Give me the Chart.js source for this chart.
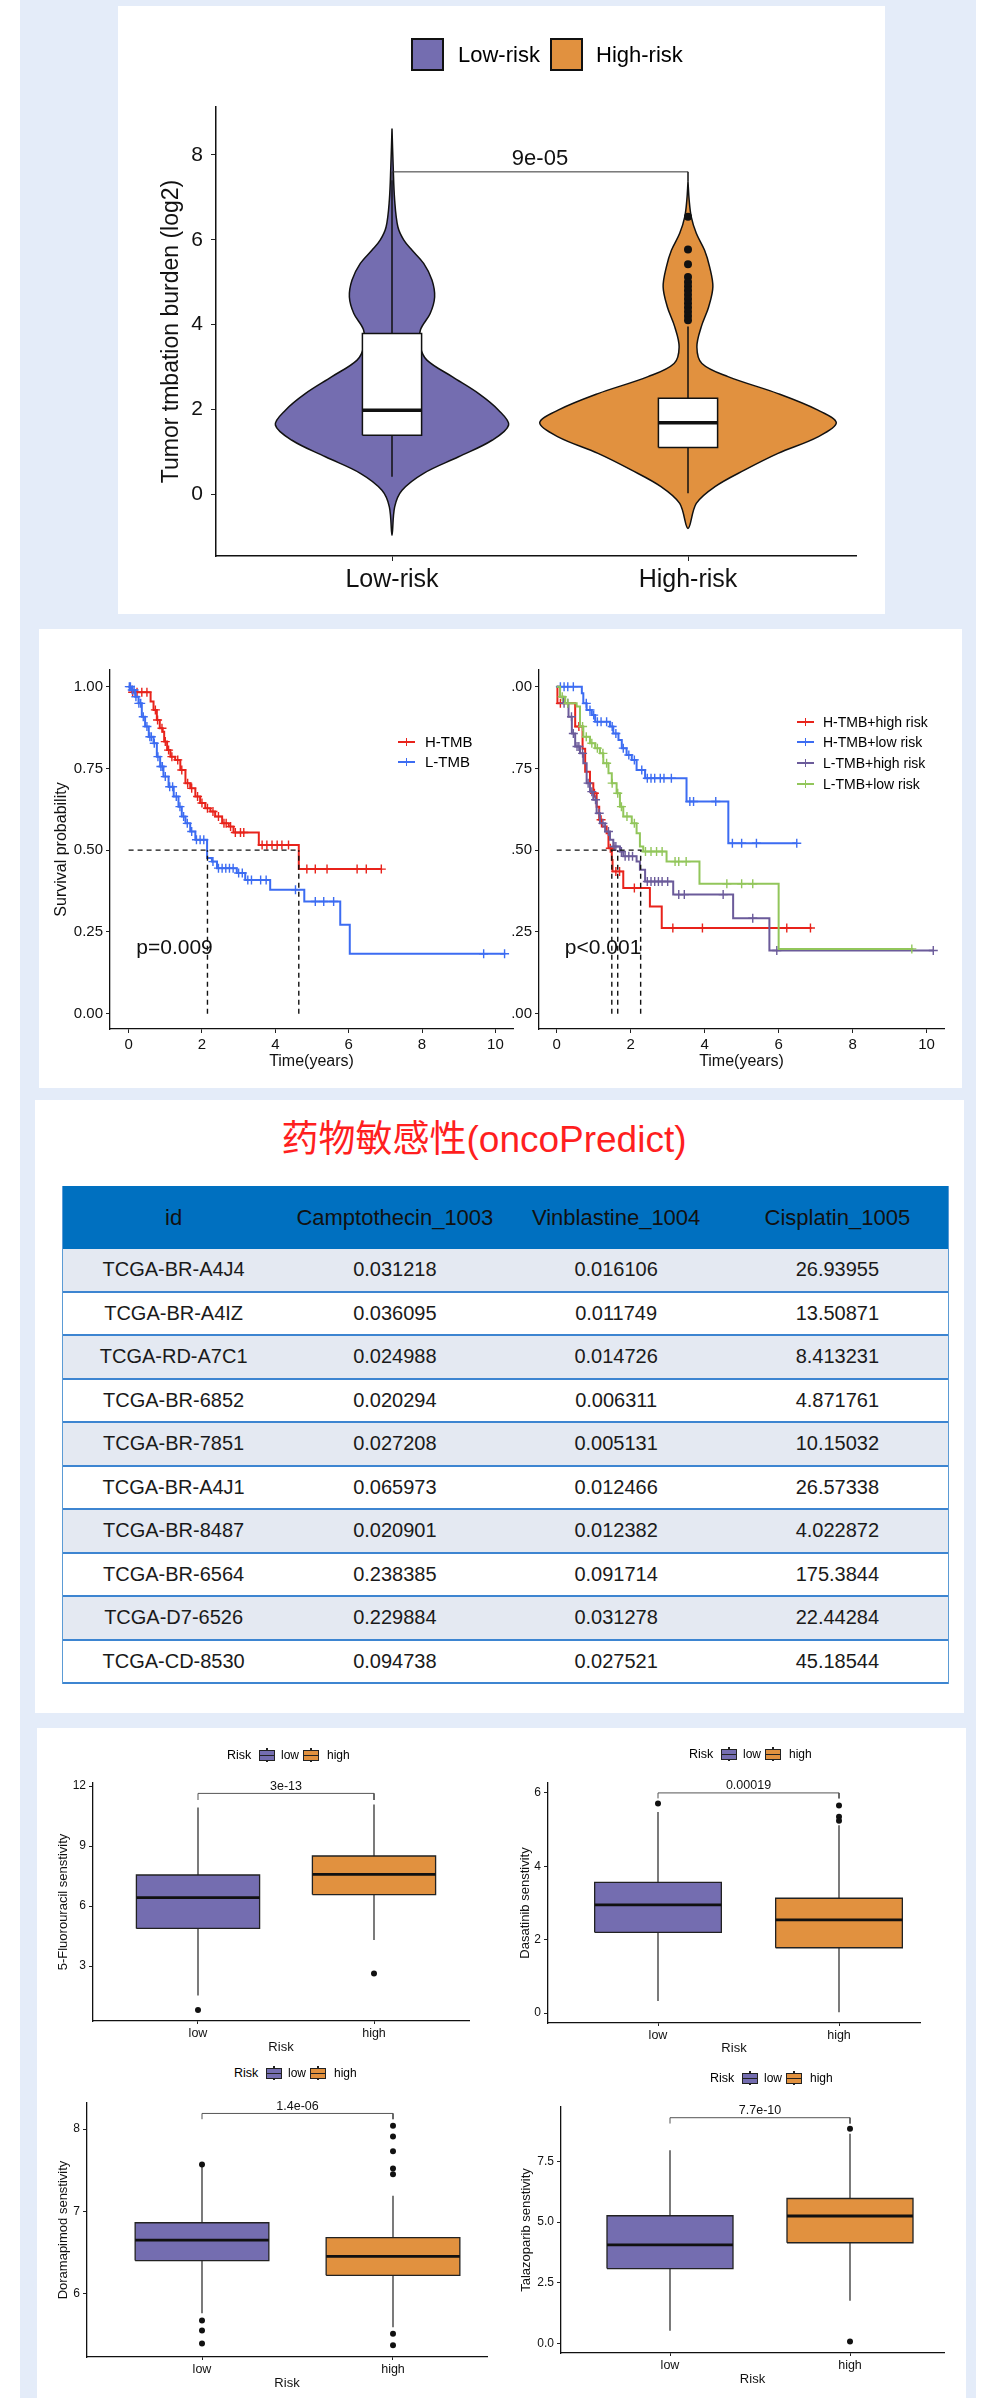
<!DOCTYPE html>
<html lang="zh-CN">
<head>
<meta charset="UTF-8">
<title>TMB, survival and drug sensitivity</title>
<script src="https://cdn.jsdelivr.net/npm/chart.js"></script>
<style>
  body { margin: 0; background: #fff; font-family: 'Liberation Sans', Arial, sans-serif; }
  #page { position: relative; width: 1000px; height: 2398px; overflow: hidden; }
  .frame { position: absolute; left: 20px; top: 0; width: 956px; height: 2398px; background: #e4ecf9; }
  .panel { position: absolute; background: #fff; }
  canvas { position: absolute; }
  #drugTable { position: absolute; left: 62px; top: 1186px; width: 887px; border-collapse: separate; border-spacing: 0;
    table-layout: fixed; border-left: 1.5px solid #5b9bd5; border-right: 1.5px solid #5b9bd5; }
  #drugTable th { height: 63px; padding: 0; background: #0070c0; color: #111; font-weight: normal; font-size: 22px; }
  #drugTable td { height: 41.5px; padding: 0; border-bottom: 2px solid #3d85d1; text-align: center; font-size: 20px; color: #1a1a1a; }
  #drugTable tr:nth-child(even) td { background: #e4e9f2; }
</style>
</head>
<body>
<div id="page">
  <div class="frame"></div>
  <div class="panel" style="left:118px;top:6px;width:767px;height:608px"></div>
  <div class="panel" style="left:39px;top:629px;width:923px;height:459px"></div>
  <div class="panel" style="left:35px;top:1100px;width:929px;height:613px"></div>
  <div class="panel" style="left:37px;top:1728px;width:929px;height:670px"></div>
  <canvas id="violin"></canvas>
  <canvas id="kmLeft"></canvas>
  <canvas id="kmRight"></canvas>
  <table id="drugTable"></table>
  <canvas id="box0"></canvas>
  <canvas id="box1"></canvas>
  <canvas id="box2"></canvas>
  <canvas id="box3"></canvas>
</div>

<script>
// ---------- violin: tumor mutation burden by risk group ----------
const riskGroups = ['Low-risk', 'High-risk'];
const tmbTicks = [0, 2, 4, 6, 8];
const lowViolinY = [8.62, 7.72, 6.93, 6.30, 5.99, 5.75, 5.44, 5.05, 4.65, 4.26, 3.87, 3.47, 3.16, 2.77, 2.37, 1.98, 1.63, 1.27, 0.88, 0.49, 0.09, -0.30, -0.97];
const lowViolinW = [0, .004, .009, .020, .040, .068, .107, .135, .144, .129, .096, .096, .118, .203, .293, .360, .394, .338, .225, .107, .034, .009, 0];
const highViolinY = [7.37, 6.93, 6.54, 6.15, 5.75, 5.36, 4.89, 4.42, 3.95, 3.47, 3.08, 2.77, 2.37, 1.98, 1.68, 1.35, 0.96, 0.57, 0.17, -0.22, -0.81];
const highViolinW = [0, .004, .011, .028, .056, .073, .084, .070, .045, .030, .047, .135, .304, .439, .501, .439, .304, .192, .090, .028, 0];
const tmbQ1 = [1.39, 1.10];
const tmbMedian = [1.98, 1.68];
const tmbQ3 = [3.79, 2.26];
const tmbWhiskerLow = [0.41, 0.02];
const tmbWhiskerHigh = [7.40, 3.95];
const tmbOutliers = [[], [6.54, 5.77, 5.42, 5.12, 5.0, 4.9, 4.8, 4.7, 4.6, 4.5, 4.4, 4.3, 4.2, 4.1]];
const tmbP = '9e-05';

// ---------- Kaplan-Meier curves ----------
const kmTimeTicks = [0, 2, 4, 6, 8, 10];
const kmSurvTicks = [0, 0.25, 0.5, 0.75, 1];
const kmLeftLabels = ['0.00', '0.25', '0.50', '0.75', '1.00'];
const kmRightLabels = ['.00', '.25', '.50', '.75', '.00'];

const hTmbTime = [0, 0.09, 0.6, 0.68, 0.77, 0.85, 0.93, 0.97, 1.05, 1.14, 1.27, 1.41, 1.55, 1.68, 1.82, 1.95, 2.09, 2.23, 2.36, 2.55, 2.73, 2.86, 3.55, 4.64, 6.91];
const hTmbSurv = [1, 0.983, 0.955, 0.929, 0.898, 0.873, 0.862, 0.832, 0.806, 0.786, 0.776, 0.745, 0.705, 0.689, 0.664, 0.644, 0.628, 0.618, 0.603, 0.582, 0.572, 0.554, 0.516, 0.442, 0.442];
const hTmbCensor = [0.11, 0.23, 0.36, 0.5, 0.73, 0.79, 0.91, 1.0, 1.09, 1.18, 1.34, 1.45, 1.61, 1.72, 1.88, 2.0, 2.15, 2.3, 2.45, 2.6, 2.66, 2.78, 2.91, 3.05, 3.14, 3.64, 3.77, 3.91, 4.05, 4.18, 4.36, 4.86, 5.09, 5.41, 6.23, 6.48, 6.89];
const lTmbTime = [0, 0.09, 0.18, 0.27, 0.36, 0.45, 0.55, 0.68, 0.77, 0.86, 0.95, 1.09, 1.23, 1.36, 1.45, 1.55, 1.68, 1.82, 2.14, 2.27, 2.41, 2.95, 3.18, 3.86, 4.79, 5.77, 6.03, 10.27];
const lTmbSurv = [1, 0.99, 0.969, 0.949, 0.908, 0.878, 0.847, 0.827, 0.786, 0.756, 0.725, 0.694, 0.664, 0.633, 0.603, 0.582, 0.557, 0.532, 0.476, 0.465, 0.445, 0.43, 0.409, 0.379, 0.343, 0.272, 0.183, 0.183];
const lTmbCensor = [0.02, 0.05, 0.1, 0.15, 0.2, 0.28, 0.33, 0.4, 0.5, 0.58, 0.62, 0.7, 0.8, 0.88, 0.92, 1.0, 1.12, 1.2, 1.3, 1.4, 1.5, 1.6, 1.72, 1.85, 1.95, 2.05, 2.3, 2.45, 2.55, 2.65, 2.75, 2.85, 3.0, 3.1, 3.25, 3.35, 3.6, 3.75, 4.55, 5.09, 5.32, 5.59, 9.68, 10.25];
const kmMedianLeft = [2.15, 4.64];

const hhTime = [0, 0.02, 0.5, 0.7, 0.77, 0.9, 0.99, 1.08, 1.15, 1.22, 1.35, 1.4, 1.49, 1.51, 1.8, 2.52, 2.84, 6.89];
const hhSurv = [1, 0.949, 0.878, 0.81, 0.74, 0.705, 0.674, 0.633, 0.593, 0.572, 0.552, 0.506, 0.47, 0.435, 0.384, 0.328, 0.262, 0.262];
const hhCensor = [0.1, 0.6, 1.02, 1.2, 1.45, 1.6, 1.7, 2.1, 3.14, 3.94, 6.22, 6.86];
const hlTime = [0, 0.54, 0.68, 0.72, 0.81, 0.95, 1.04, 1.44, 1.53, 1.67, 1.76, 1.89, 2.03, 2.16, 2.39, 3.51, 4.64, 6.49];
const hlSurv = [1, 1, 0.98, 0.949, 0.929, 0.913, 0.893, 0.878, 0.857, 0.837, 0.812, 0.791, 0.776, 0.745, 0.72, 0.649, 0.521, 0.521];
const hlCensor = [0.1, 0.2, 0.3, 0.45, 0.8, 0.9, 1.0, 1.1, 1.2, 1.35, 1.5, 1.6, 1.8, 1.95, 2.1, 2.3, 2.45, 2.55, 2.65, 2.8, 2.9, 3.1, 3.6, 3.7, 4.3, 4.75, 5.0, 5.4, 6.49];
const lhTime = [0, 0.09, 0.18, 0.32, 0.41, 0.5, 0.63, 0.72, 0.81, 0.9, 0.99, 1.08, 1.17, 1.31, 1.44, 1.53, 1.71, 1.8, 2.16, 2.25, 2.39, 3.15, 4.77, 5.75, 10.18];
const lhSurv = [1, 0.969, 0.949, 0.908, 0.857, 0.817, 0.796, 0.766, 0.705, 0.679, 0.654, 0.613, 0.582, 0.557, 0.532, 0.511, 0.496, 0.481, 0.465, 0.44, 0.404, 0.364, 0.292, 0.193, 0.193];
const lhCensor = [0.2, 0.3, 0.4, 0.45, 0.55, 0.6, 0.7, 0.85, 0.95, 1.05, 1.15, 1.25, 1.4, 1.55, 1.6, 1.75, 1.85, 1.95, 2.05, 2.45, 2.55, 2.65, 2.75, 2.85, 3.0, 3.3, 3.45, 4.5, 5.3, 5.95, 10.18];
const llTime = [0, 0.09, 0.23, 0.54, 0.63, 0.72, 0.9, 1.04, 1.17, 1.26, 1.4, 1.49, 1.62, 1.71, 1.8, 2.03, 2.16, 2.25, 2.34, 2.97, 3.86, 6.0, 9.64];
const llSurv = [1, 0.969, 0.949, 0.939, 0.878, 0.847, 0.827, 0.812, 0.796, 0.766, 0.735, 0.705, 0.674, 0.633, 0.603, 0.582, 0.552, 0.511, 0.496, 0.465, 0.397, 0.198, 0.198];
const llCensor = [0.15, 0.3, 0.7, 0.8, 0.95, 1.1, 1.25, 1.35, 1.5, 1.65, 1.75, 1.9, 2.1, 2.4, 2.55, 2.7, 2.85, 3.2, 3.3, 3.5, 4.6, 5.0, 5.3, 9.6];
const kmMedianRight = [1.49, 1.65, 2.27];

// ---------- oncoPredict table ----------
const drugColumns = ['id', 'Camptothecin_1003', 'Vinblastine_1004', 'Cisplatin_1005'];
const sampleIds = ['TCGA-BR-A4J4', 'TCGA-BR-A4IZ', 'TCGA-RD-A7C1', 'TCGA-BR-6852', 'TCGA-BR-7851', 'TCGA-BR-A4J1', 'TCGA-BR-8487', 'TCGA-BR-6564', 'TCGA-D7-6526', 'TCGA-CD-8530'];
const camptothecin = [0.031218, 0.036095, 0.024988, 0.020294, 0.027208, 0.065973, 0.020901, 0.238385, 0.229884, 0.094738];
const vinblastine = [0.016106, 0.011749, 0.014726, 0.006311, 0.005131, 0.012466, 0.012382, 0.091714, 0.031278, 0.027521];
const cisplatin = [26.93955, 13.50871, 8.413231, 4.871761, 10.15032, 26.57338, 4.022872, 175.3844, 22.44284, 45.18544];

// ---------- drug sensitivity boxplots ----------
const boxGroups = ['low', 'high'];
const drugTitles = ['5-Fluorouracil senstivity', 'Dasatinib senstivity', 'Doramapimod senstivity', 'Talazoparib senstivity'];
const drugTicks = [[3, 6, 9, 12], [0, 2, 4, 6], [6, 7, 8], [0, 2.5, 5, 7.5]];
const drugTickLabels = [['3', '6', '9', '12'], ['0', '2', '4', '6'], ['6', '7', '8'], ['0.0', '2.5', '5.0', '7.5']];
const drugQ1 = [[4.88, 6.57], [2.20, 1.78], [6.40, 6.22], [3.09, 4.15]];
const drugMedian = [[6.42, 7.58], [2.95, 2.54], [6.65, 6.45], [4.06, 5.25]];
const drugQ3 = [[7.55, 8.50], [3.56, 3.13], [6.86, 6.68], [5.26, 5.97]];
const drugWhiskerLow = [[1.53, 4.30], [0.33, 0.02], [5.76, 5.59], [0.53, 1.77]];
const drugWhiskerHigh = [[10.93, 11.08], [5.48, 5.12], [7.56, 7.19], [7.95, 8.63]];
const drugOutliers = [
  [[0.8], [2.63]],
  [[5.71], [5.66, 5.35, 5.24]],
  [[7.57, 5.67, 5.55, 5.39], [8.04, 7.91, 7.73, 7.52, 7.45, 5.51, 5.37]],
  [[], [8.84, 0.09]]
];
const drugP = ['3e-13', '0.00019', '1.4e-06', '7.7e-10'];
const drugBracket = [[11.63, 11.30], [6.0, 5.85], [8.19, 8.12], [9.29, 9.05]];

// ---------- styling / layout ----------
const purple = '#746db0';
const orange = '#e1913f';
const kmRed = '#e8231b', kmBlue = '#3c6cf2', kmPurple = '#6b5b9a', kmGreen = '#92c65b';

Chart.defaults.font.family = "'Liberation Sans', Arial, sans-serif";
Chart.defaults.color = '#111';

const page = document.getElementById('page');
function el(tag, css, text) {
  const e = document.createElement(tag);
  e.style.cssText = 'position:absolute;white-space:nowrap;' + css;
  if (text !== undefined) e.textContent = text;
  page.appendChild(e);
  return e;
}
function label(text, x, yc, size, extra) {
  return el('div', `left:${x}px;top:${yc - size * 0.6}px;font-size:${size}px;line-height:${size * 1.2}px;` + (extra || ''), text);
}

// size the canvas so the plot area and axis titles land where they should
function frame(id, L) {
  const cv = document.getElementById(id);
  const yLH = L.yTitleSize ? L.yTitleSize * 1.2 : 0;
  const xLH = L.xTitleSize ? L.xTitleSize * 1.2 : 0;
  const left = Math.round(L.ytx !== undefined ? L.ytx - yLH / 2 : L.cl);
  const bottom = Math.round(L.xty !== undefined ? L.xty + xLH / 2 : L.cb);
  cv.style.left = left + 'px';
  cv.style.top = L.ct + 'px';
  cv.width = L.cr - left;
  cv.height = bottom - L.ct;
  return { padding: { left: 0, top: L.t - L.ct, right: L.cr - L.r, bottom: 0 }, yWidth: L.l - left, xHeight: bottom - L.b };
}

function linAxis(o) {
  return {
    type: 'linear', min: o.min, max: o.max,
    afterBuildTicks: s => { s.ticks = o.ticks.map(v => ({ value: v })); },
    afterFit: s => {
      if (o.width !== undefined) s.width = o.width;
      if (o.height !== undefined) s.height = o.height;
      s.paddingTop = 0; s.paddingBottom = 0; s.paddingLeft = 0; s.paddingRight = 0;
    },
    ticks: { color: '#111', font: { size: o.size }, padding: o.pad, autoSkip: false, maxRotation: 0, callback: (v, i) => o.labels[i] },
    grid: { drawOnChartArea: false, drawTicks: true, tickLength: o.tick, color: '#222' },
    border: { display: true, color: '#111', width: o.line },
    title: { display: !!o.title, text: o.title || '', color: '#111', padding: 0, font: { size: o.titleSize, lineHeight: 1.2 } }
  };
}

function notes(items) {
  return {
    id: 'notes',
    afterDatasetsDraw(chart) {
      const { ctx, scales: { x, y } } = chart;
      items.forEach(n => {
        ctx.save();
        ctx.font = n.font;
        ctx.fillStyle = '#111';
        ctx.textAlign = n.align || 'center';
        ctx.textBaseline = n.baseline || 'middle';
        ctx.fillText(n.text, x.getPixelForValue(n.x), y.getPixelForValue(n.y) + (n.dy || 0));
        ctx.restore();
      });
    }
  };
}

function build(id, datasets, x, y, noteItems, padding) {
  datasets.forEach((d, i) => { d.order = -i; });
  return new Chart(document.getElementById(id), {
    type: 'line',
    data: { datasets },
    options: {
      responsive: false, animation: false, events: [],
      layout: { padding, autoPadding: false },
      plugins: { legend: { display: false }, tooltip: { enabled: false } },
      scales: { x, y }
    },
    plugins: [notes(noteItems)]
  });
}

function seg(points, color, width, extra) {
  return Object.assign({ data: points, borderColor: color, borderWidth: width, pointRadius: 0, fill: false, tension: 0 }, extra || {});
}
function rect(c, hw, lo, hi) {
  return [{ x: c - hw, y: lo }, { x: c + hw, y: lo }, { x: c + hw, y: hi }, { x: c - hw, y: hi }, { x: c - hw, y: lo }];
}
function dots(c, values, r) {
  return { data: values.map(v => ({ x: c, y: v })), showLine: false, pointRadius: r, pointBackgroundColor: '#111', pointBorderWidth: 0 };
}
function catRange(L) {
  const step = L.cats[1] - L.cats[0];
  return { min: 1 - (L.cats[0] - L.l) / step, max: 2 + (L.r - L.cats[1]) / step };
}

// ---------- violin chart ----------
(function () {
  const L = { l: 216, t: 107, r: 856, b: 556, ct: 6, cr: 885, cb: 613, ytx: 172, yTitleSize: 23, cats: [392, 688] };
  const f = frame('violin', L);
  const xr = catRange(L);
  const ds = [];
  const shapes = [[lowViolinY, lowViolinW], [highViolinY, highViolinW]];
  const fills = [purple, orange];
  shapes.forEach(([ys, ws], g) => {
    const c = g + 1;
    const right = ys.map((v, i) => ({ x: c + ws[i], y: v }));
    const left = ys.map((v, i) => ({ x: c - ws[i], y: v })).reverse();
    ds.push(seg(right.concat(left.slice(1)), '#111', 1.5, { fill: 'shape', backgroundColor: fills[g], tension: 0.35 }));
  });
  [0, 1].forEach(g => {
    const c = g + 1;
    ds.push(seg([{ x: c, y: tmbWhiskerLow[g] }, { x: c, y: tmbWhiskerHigh[g] }], '#111', 1.5));
    ds.push(seg(rect(c, 0.1, tmbQ1[g], tmbQ3[g]), '#111', 1.5, { fill: 'shape', backgroundColor: '#fff' }));
    ds.push(seg([{ x: c - 0.1, y: tmbMedian[g] }, { x: c + 0.1, y: tmbMedian[g] }], '#111', 3.5));
    ds.push(dots(c, tmbOutliers[g], 4));
  });
  ds.push(seg([{ x: 1, y: 7.37 }, { x: 1, y: 7.6 }, { x: 2, y: 7.6 }, { x: 2, y: 7.37 }], '#333', 1));
  build('violin', ds,
    linAxis({ min: xr.min, max: xr.max, ticks: [1, 2], labels: riskGroups, size: 25, pad: 4, tick: 5, line: 1.5, height: f.xHeight }),
    linAxis({ min: -1.46, max: 9.13, ticks: tmbTicks, labels: tmbTicks.map(String), size: 21, pad: 8, tick: 5, line: 1.5, width: f.yWidth,
      title: 'Tumor tmbation burden (log2)', titleSize: 23 }),
    [{ x: 1.5, y: 7.6, dy: -2, text: tmbP, font: "22px 'Liberation Sans', Arial", baseline: 'bottom' }],
    f.padding);

  el('div', `left:411px;top:38px;width:29px;height:29px;border:2px solid #111;background:${purple}`);
  label('Low-risk', 458, 55, 22);
  el('div', `left:550px;top:38px;width:29px;height:29px;border:2px solid #111;background:${orange}`);
  label('High-risk', 596, 55, 22);
})();

// ---------- Kaplan-Meier charts ----------
function survAt(times, surv, t) {
  let s = surv[0];
  for (let i = 0; i < times.length; i++) if (times[i] <= t) s = surv[i];
  return s;
}
function kmDatasets(curves, medians, medianEnd) {
  const ds = [];
  curves.forEach(cv => {
    ds.push(seg(cv.time.map((t, i) => ({ x: t, y: cv.surv[i] })), cv.color, 2, { stepped: 'before' }));
    ds.push({ data: cv.censor.map(t => ({ x: t, y: survAt(cv.time, cv.surv, t) })), showLine: false,
      pointStyle: 'cross', pointRadius: 4.5, pointBorderWidth: 1.4, pointBorderColor: cv.color });
  });
  const dash = { borderDash: [5, 4] };
  ds.push(seg([{ x: 0, y: 0.5 }, { x: medianEnd, y: 0.5 }], '#111', 1.4, dash));
  medians.forEach(m => ds.push(seg([{ x: m, y: 0 }, { x: m, y: 0.5 }], '#111', 1.4, dash)));
  return ds;
}
function kmKey(x, yc, color, text, size, gap) {
  el('div', `left:${x}px;top:${yc - 1}px;width:17px;height:2px;background:${color}`);
  el('div', `left:${x + 7.5}px;top:${yc - 4}px;width:1.5px;height:8px;background:${color}`);
  label(text, x + gap, yc, size);
}

(function () {
  const L = { l: 110, t: 670, r: 513, b: 1029, ct: 640, cr: 530, ytx: 62, yTitleSize: 16, xty: 1061, xTitleSize: 16 };
  const f = frame('kmLeft', L);
  const ds = kmDatasets([
    { time: hTmbTime, surv: hTmbSurv, censor: hTmbCensor, color: kmRed },
    { time: lTmbTime, surv: lTmbSurv, censor: lTmbCensor, color: kmBlue }
  ], kmMedianLeft, 4.64);
  build('kmLeft', ds,
    linAxis({ min: -0.507, max: 10.48, ticks: kmTimeTicks, labels: kmTimeTicks.map(String), size: 15, pad: 3, tick: 4, line: 1.3, height: f.xHeight,
      title: 'Time(years)', titleSize: 16 }),
    linAxis({ min: -0.047, max: 1.051, ticks: kmSurvTicks, labels: kmLeftLabels, size: 15, pad: 3, tick: 4, line: 1.3, width: f.yWidth,
      title: 'Survival probability', titleSize: 16 }),
    [{ x: 0.21, y: 0.2, text: 'p=0.009', font: "21px 'Liberation Sans', Arial", align: 'left' }],
    f.padding);
  kmKey(398, 742, kmRed, 'H-TMB', 15, 27);
  kmKey(398, 762, kmBlue, 'L-TMB', 15, 27);
})();

(function () {
  const L = { l: 539, t: 670, r: 944, b: 1029, ct: 640, cr: 960, cl: 500, xty: 1061, xTitleSize: 16 };
  const f = frame('kmRight', L);
  const ds = kmDatasets([
    { time: hhTime, surv: hhSurv, censor: hhCensor, color: kmRed },
    { time: hlTime, surv: hlSurv, censor: hlCensor, color: kmBlue },
    { time: lhTime, surv: lhSurv, censor: lhCensor, color: kmPurple },
    { time: llTime, surv: llSurv, censor: llCensor, color: kmGreen }
  ], kmMedianRight, 2.3);
  build('kmRight', ds,
    linAxis({ min: -0.478, max: 10.47, ticks: kmTimeTicks, labels: kmTimeTicks.map(String), size: 15, pad: 3, tick: 4, line: 1.3, height: f.xHeight,
      title: 'Time(years)', titleSize: 16 }),
    linAxis({ min: -0.047, max: 1.051, ticks: kmSurvTicks, labels: kmRightLabels, size: 15, pad: 3, tick: 4, line: 1.3, width: f.yWidth }),
    [{ x: 0.22, y: 0.2, text: 'p<0.001', font: "21px 'Liberation Sans', Arial", align: 'left' }],
    f.padding);
  kmKey(797, 722, kmRed, 'H-TMB+high risk', 14, 26);
  kmKey(797, 742, kmBlue, 'H-TMB+low risk', 14, 26);
  kmKey(797, 763, kmPurple, 'L-TMB+high risk', 14, 26);
  kmKey(797, 784, kmGreen, 'L-TMB+low risk', 14, 26);
})();

// ---------- table ----------
label('药物敏感性(oncoPredict)', 0, 1140, 37, "width:968px;text-align:center;color:#ff1f1f;font-family:'Liberation Sans','Noto Sans CJK SC',sans-serif;");
(function () {
  let html = '<tr>' + drugColumns.map(c => `<th>${c}</th>`).join('') + '</tr>';
  sampleIds.forEach((id, i) => {
    html += `<tr><td>${id}</td><td>${camptothecin[i]}</td><td>${vinblastine[i]}</td><td>${cisplatin[i]}</td></tr>`;
  });
  document.getElementById('drugTable').innerHTML = html;
})();

// ---------- boxplots ----------
const boxLayouts = [
  { id: 'box0', l: 93, t: 1783, r: 469, b: 2021, ct: 1740, cr: 480, ytx: 64, xty: 2047, cats: [198, 374], ymin: 0.25, ymax: 12.15, lx: 227, ly: 1755 },
  { id: 'box1', l: 548, t: 1783, r: 920, b: 2023, ct: 1740, cr: 935, ytx: 526, xty: 2048, cats: [658, 839], ymin: -0.27, ymax: 6.27, lx: 689, ly: 1754 },
  { id: 'box2', l: 87, t: 2103, r: 487, b: 2357, ct: 2085, cr: 500, ytx: 64, xty: 2383, cats: [202, 393], ymin: 5.227, ymax: 8.317, lx: 234, ly: 2073 },
  { id: 'box3', l: 561, t: 2107, r: 944, b: 2353, ct: 2085, cr: 958, ytx: 527, xty: 2379, cats: [670, 850], ymin: -0.38, ymax: 9.73, lx: 710, ly: 2078 }
];
function boxKey(x, yc, fill) {
  el('div', `left:${x + 7}px;top:${yc - 7}px;width:1.5px;height:14px;background:#222`);
  el('div', `left:${x}px;top:${yc - 5}px;width:14px;height:9px;border:1px solid #222;background:${fill}`);
  el('div', `left:${x + 1}px;top:${yc - 0.5}px;width:14px;height:1.5px;background:#222`);
}
boxLayouts.forEach((B, k) => {
  const L = Object.assign({ yTitleSize: 13, xTitleSize: 13 }, B);
  const f = frame(B.id, L);
  const xr = catRange(L);
  const ds = [];
  [purple, orange].forEach((fill, g) => {
    const c = g + 1;
    ds.push(seg([{ x: c, y: drugWhiskerLow[k][g] }, { x: c, y: drugWhiskerHigh[k][g] }], '#222', 1.2));
    ds.push(seg(rect(c, 0.35, drugQ1[k][g], drugQ3[k][g]), '#222', 1.3, { fill: 'shape', backgroundColor: fill }));
    ds.push(seg([{ x: c - 0.35, y: drugMedian[k][g] }, { x: c + 0.35, y: drugMedian[k][g] }], '#111', 2.8));
    ds.push(dots(c, drugOutliers[k][g], 3));
  });
  const [by, tip] = drugBracket[k];
  ds.push(seg([{ x: 1, y: tip }, { x: 1, y: by }, { x: 2, y: by }, { x: 2, y: tip }], '#555', 1));
  build(B.id, ds,
    linAxis({ min: xr.min, max: xr.max, ticks: [1, 2], labels: boxGroups, size: 12.5, pad: 2, tick: 3, line: 1.3, height: f.xHeight,
      title: 'Risk', titleSize: 13 }),
    linAxis({ min: B.ymin, max: B.ymax, ticks: drugTicks[k], labels: drugTickLabels[k], size: 12, pad: 3, tick: 4, line: 1.3, width: f.yWidth,
      title: drugTitles[k], titleSize: 13 }),
    [{ x: 1.5, y: by, dy: -1, text: drugP[k], font: "12.5px 'Liberation Sans', Arial", baseline: 'bottom' }],
    f.padding);
  label('Risk', B.lx, B.ly, 12.5);
  boxKey(B.lx + 32, B.ly, purple);
  label('low', B.lx + 54, B.ly, 12);
  boxKey(B.lx + 76, B.ly, orange);
  label('high', B.lx + 100, B.ly, 12);
});
</script>
</body>
</html>
